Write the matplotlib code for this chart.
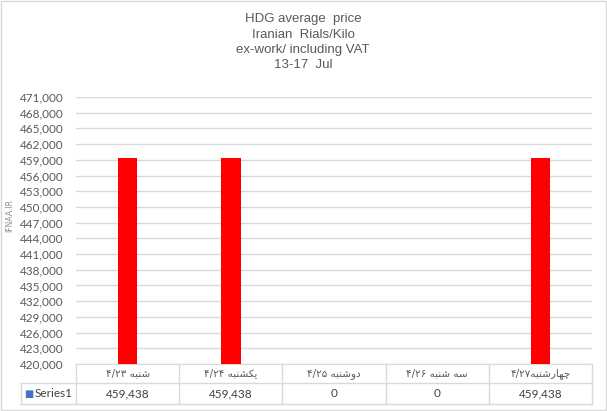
import re
import matplotlib
matplotlib.use("Agg")
import matplotlib.pyplot as plt
import numpy as np
from matplotlib.lines import Line2D

# chart data
days = ["شنبه ۴/۲۳", "یکشنبه ۴/۲۴", "دوشنبه ۴/۲۵", "سه شنبه ۴/۲۶", "چهارشنبه۴/۲۷"]
prices = [459438, 459438, 0, 0, 459438]
series_name = "Series1"
title_lines = ["HDG average  price", "Iranian  Rials/Kilo", "ex-work/ including VAT", "13-17  Jul"]
y_min, y_max, y_step = 420000, 471000, 3000

# arabic presentation forms: isolated, final, initial, medial (None = no left join)
FORMS = {
    "ش": ("\uFEB5", "\uFEB6", "\uFEB7", "\uFEB8"),
    "ن": ("\uFEE5", "\uFEE6", "\uFEE7", "\uFEE8"),
    "ب": ("\uFE8F", "\uFE90", "\uFE91", "\uFE92"),
    "ه": ("\uFEE9", "\uFEEA", "\uFEEB", "\uFEEC"),
    "ی": ("\uFBFC", "\uFBFD", "\uFBFE", "\uFBFF"),
    "ک": ("\uFB8E", "\uFB8F", "\uFB90", "\uFB91"),
    "س": ("\uFEB1", "\uFEB2", "\uFEB3", "\uFEB4"),
    "چ": ("\uFB7A", "\uFB7B", "\uFB7C", "\uFB7D"),
    "د": ("\uFEA9", "\uFEAA", None, None),
    "و": ("\uFEED", "\uFEEE", None, None),
    "ا": ("\uFE8D", "\uFE8E", None, None),
    "ر": ("\uFEAD", "\uFEAE", None, None),
}


def to_visual(text):
    """Shape persian letters and put the string in left-to-right visual order."""
    out = []
    for i, c in enumerate(text):
        if c not in FORMS:
            out.append(c)
            continue
        prev = text[i - 1] if i > 0 else ""
        nxt = text[i + 1] if i + 1 < len(text) else ""
        iso, fin, ini, med = FORMS[c]
        join_prev = prev in FORMS and FORMS[prev][2] is not None
        join_next = ini is not None and nxt in FORMS
        if join_prev and join_next:
            out.append(med)
        elif join_prev:
            out.append(fin)
        elif join_next:
            out.append(ini)
        else:
            out.append(iso)
    s = "".join(out)[::-1]
    return re.sub(r"[۰-۹/]+", lambda m: m.group(0)[::-1], s)


W, H = 607, 411
fig = plt.figure(figsize=(W / 100, H / 100), dpi=100)
fig.patch.set_facecolor("white")

# outer chart border
fig.add_artist(plt.Rectangle((1.5 / W, 1.5 / H), (W - 3) / W, (H - 3) / H,
                             transform=fig.transFigure, fill=False,
                             edgecolor="#d9d9d9", linewidth=1))

left, right, top, bottom = 76, 592, 97, 364
ax = fig.add_axes([left / W, 1 - bottom / H, (right - left) / W, (bottom - top) / H])

x = np.arange(len(days))
ax.bar(x, prices, width=0.19, color="#ff0000", zorder=3)
ax.set_xlim(-0.5, len(days) - 0.5)
ax.set_ylim(y_min, y_max)
yticks = np.arange(y_min, y_max + 1, y_step)
ax.set_yticks(yticks)
ax.set_yticklabels([f"{v:,}" for v in yticks], fontsize=8.5, color="#595959", family="Lato")
ax.tick_params(axis="y", length=0, pad=9)
ax.set_xticks([])
ax.grid(axis="y", color="#d9d9d9", linewidth=1, zorder=0)
for side in ["top", "right", "left"]:
    ax.spines[side].set_visible(False)
ax.spines["bottom"].set_color("#d9d9d9")

fig.text(10 / W, 1 - 215 / H, "IFNAA.IR", rotation=90, ha="center", va="center",
         fontsize=5.5, color="#8c8c8c", family="DejaVu Sans")

for i, line in enumerate(title_lines):
    fig.text(303 / W, 1 - (19 + i * 15.5) / H, line, ha="center", va="center",
             fontsize=9.5, color="#595959", family="Liberation Sans")

# data table under the plot
ax_h = bottom - top
row1 = -(383 - bottom) / ax_h
row2 = -(404 - bottom) / ax_h
x_lab = -(left - 21) / (right - left)
grid_kw = dict(transform=ax.transAxes, color="#d9d9d9", linewidth=1, clip_on=False)
ax.add_line(Line2D([x_lab, 1], [row1, row1], **grid_kw))
ax.add_line(Line2D([x_lab, 1], [row2, row2], **grid_kw))
ax.add_line(Line2D([x_lab, x_lab], [row1, row2], **grid_kw))
for k in range(len(days) + 1):
    xv = k / len(days)
    ax.add_line(Line2D([xv, xv], [0, row2], **grid_kw))

for i, (d, p) in enumerate(zip(days, prices)):
    ax.text(i, (0 + row1) / 2, to_visual(d), transform=ax.get_xaxis_transform(),
            ha="center", va="center", fontsize=7.5, color="#595959",
            family="DejaVu Sans", clip_on=False)
    ax.text(i, (row1 + row2) / 2, f"{p:,}", transform=ax.get_xaxis_transform(),
            ha="center", va="center", fontsize=8.5, color="#404040",
            family="Lato", clip_on=False)

ax.text(x_lab + 0.006, (row1 + row2) / 2, "\u25A0", transform=ax.transAxes,
        ha="left", va="center", fontsize=7, color="#4472c4", family="DejaVu Sans")
ax.text(x_lab + 0.026, (row1 + row2) / 2, series_name, transform=ax.transAxes,
        ha="left", va="center", fontsize=8.5, color="#404040", family="Lato")

fig.savefig("out.png", dpi=100)
